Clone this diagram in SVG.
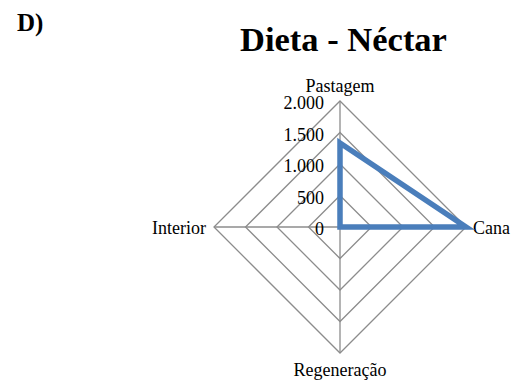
<svg xmlns="http://www.w3.org/2000/svg" width="522" height="385" viewBox="0 0 522 385">
<style>
text{font-family:"Liberation Serif","Times New Roman",serif;fill:#000}
.lbl{font-size:18px}
.num{font-size:18px;text-anchor:end}
.grid{fill:none;stroke:#8c8c8c;stroke-width:1.3}
.series{fill:none;stroke:#4a7ebb;stroke-width:5.5;stroke-linejoin:miter}
</style>
<rect width="522" height="385" fill="#fff"/>
<text id="panel" x="17" y="31" style="font-size:25px;font-weight:bold">D)</text>
<text id="title" x="343.5" y="51" text-anchor="middle" style="font-size:34.5px;font-weight:bold">Dieta - Néctar</text>
<g id="grid">
<polygon class="grid" points="340,195.5 371.5,227 340,258.5 308.5,227"/>
<polygon class="grid" points="340,164 403,227 340,290 277,227"/>
<polygon class="grid" points="340,132.5 434.5,227 340,321.5 245.5,227"/>
<polygon class="grid" points="340,101 466,227 340,353 214,227"/>
<line class="grid" x1="340" y1="101" x2="340" y2="353"/>
<line class="grid" x1="214" y1="227" x2="466" y2="227"/>
</g>
<g id="axis-values">
<text class="num" x="324" y="109">2.000</text>
<text class="num" x="324" y="140.5">1.500</text>
<text class="num" x="324" y="172">1.000</text>
<text class="num" x="324" y="203.5">500</text>
<text class="num" x="324" y="235">0</text>
</g>
<g id="node-pastagem"><text class="lbl" x="340" y="92" text-anchor="middle">Pastagem</text></g>
<g id="node-cana"><text class="lbl" x="473" y="234">Cana</text></g>
<g id="node-interior"><text class="lbl" x="206" y="234" text-anchor="end">Interior</text></g>
<g id="node-regeneracao"><text class="lbl" x="340" y="376" text-anchor="middle">Regeneração</text></g>
<g id="series">
<polygon class="series" points="340,143 466,227 340,227"/>
</g>
</svg>
